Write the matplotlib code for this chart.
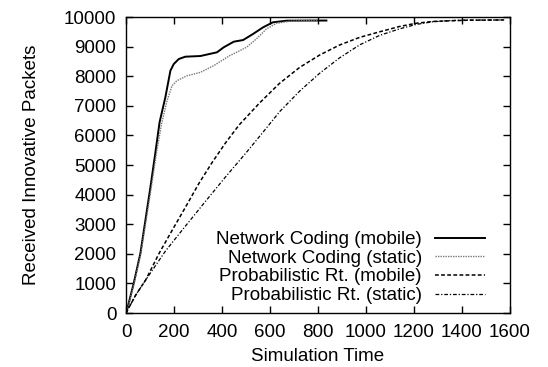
import matplotlib
matplotlib.use("Agg")
import matplotlib.pyplot as plt

plt.rcParams['font.family'] = ['Liberation Sans', 'DejaVu Sans']

# Network coding, mobile nodes
nc_mobile_t = [0, 4, 32, 60, 81, 102, 122, 140, 164, 185, 199, 220, 247, 310, 379, 407,
               449, 488, 529, 571, 612, 668, 760, 835]
nc_mobile_v = [0, 100, 1000, 2017, 3142, 4267, 5395, 6450, 7287, 8186, 8412, 8581, 8659,
               8682, 8807, 8975, 9166, 9222, 9425, 9650, 9820, 9875, 9880, 9880]

# Network coding, static nodes
nc_static_t = [0, 5, 34, 62, 84, 106, 127, 148, 171, 192, 212, 255, 310, 365, 432, 502,
               543, 585, 627, 682, 737, 800]
nc_static_v = [0, 100, 1000, 2017, 3142, 4267, 5395, 6385, 7172, 7680, 7848, 8017, 8130,
               8355, 8693, 8975, 9257, 9595, 9787, 9855, 9875, 9880]

# Probabilistic routing, mobile nodes
pr_mobile_t = [0, 40, 82, 138, 193, 249, 304, 360, 415, 471, 557, 640, 724, 807, 890,
               974, 1057, 1140, 1210, 1279, 1418, 1578]
pr_mobile_v = [0, 600, 1115, 2017, 2804, 3592, 4381, 5100, 5750, 6350, 7100, 7760, 8300,
               8716, 9054, 9313, 9500, 9680, 9790, 9850, 9890, 9900]

# Probabilistic routing, static nodes
pr_static_t = [0, 40, 82, 165, 249, 332, 415, 499, 570, 640, 724, 807, 890, 974, 1057,
               1140, 1210, 1279, 1350, 1418, 1578]
pr_static_v = [0, 600, 1115, 2100, 2950, 3780, 4600, 5400, 6100, 6800, 7500, 8100, 8620,
               9060, 9380, 9600, 9750, 9840, 9880, 9895, 9900]

x_ticks = [0, 200, 400, 600, 800, 1000, 1200, 1400, 1600]
y_ticks = [0, 1000, 2000, 3000, 4000, 5000, 6000, 7000, 8000, 9000, 10000]

FS = 13.5

fig = plt.figure(figsize=(5.48, 3.67), dpi=100)
ax = fig.add_axes([126 / 548, 1 - 313 / 367, (510 - 126) / 548, (313 - 17) / 367])

ax.plot(nc_mobile_t, nc_mobile_v, color='black', lw=1.4, ls='-',
        label='Network Coding (mobile)')
ax.plot(nc_static_t, nc_static_v, color='#777777', lw=1.0, ls=(0, (1, 0.8)),
        label='Network Coding (static)')
ax.plot(pr_mobile_t, pr_mobile_v, color='black', lw=1.1, ls=(0, (2.5, 1.5)),
        label='Probabilistic Rt. (mobile)')
ax.plot(pr_static_t, pr_static_v, color='black', lw=0.9, ls=(0, (3, 1.5, 1, 1.5)),
        label='Probabilistic Rt. (static)')

ax.set_xlim(0, 1600)
ax.set_ylim(0, 10000)
ax.set_xticks(x_ticks)
ax.set_yticks(y_ticks)
ax.tick_params(direction='in', top=True, right=True, length=5, width=1,
               labelsize=FS)
ax.tick_params(axis='x', pad=8)
ax.tick_params(axis='y', pad=7)
for s in ax.spines.values():
    s.set_linewidth(1.0)

ax.set_xlabel('Simulation Time', fontsize=FS, labelpad=5)
ax.set_ylabel('Received Innovative Packets', fontsize=FS, labelpad=17)

leg = ax.legend(loc='lower right', markerfirst=False, frameon=False, fontsize=FS,
                handlelength=2.67, handletextpad=0.7, labelspacing=0.08,
                borderpad=0, borderaxespad=0, bbox_to_anchor=(0.935, 0.03))

fig.savefig('out.png', dpi=100)
